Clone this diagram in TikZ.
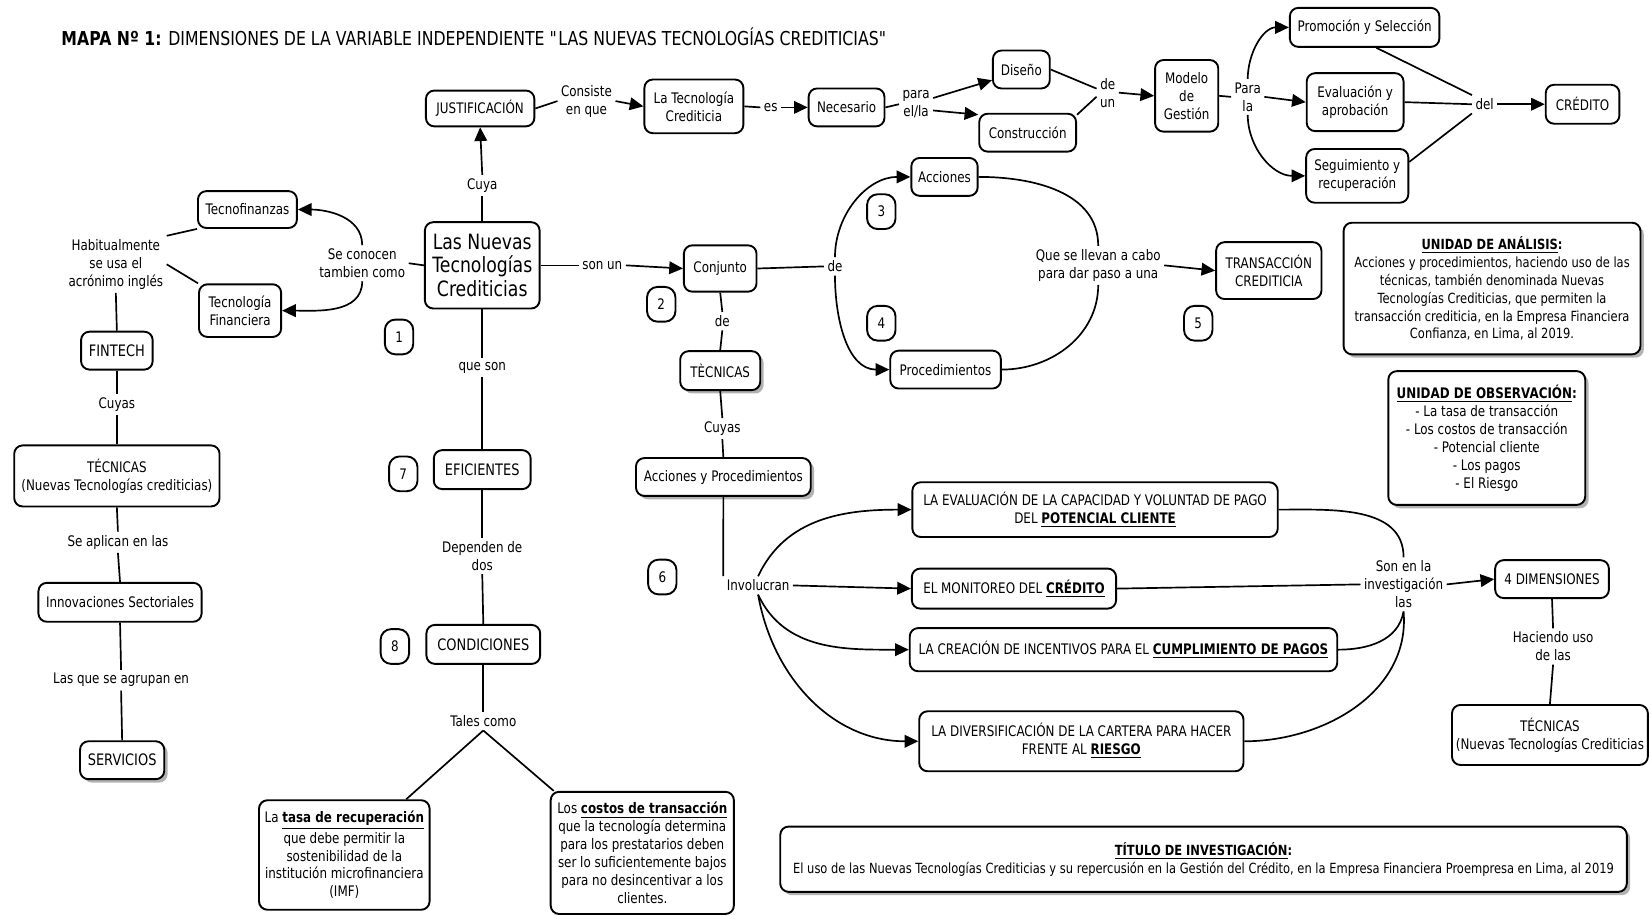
\documentclass[tikz,border=0pt]{standalone}
\usepackage{fontspec}
\setmainfont{DejaVu Sans}[FakeStretch=0.82]
\usetikzlibrary{arrows.meta,shadows}
\newcommand{\normfs}{\fontsize{6.9pt}{8.5pt}\selectfont}
\newcommand{\smfs}{\fontsize{6.65pt}{8.5pt}\selectfont}
\newcommand{\midfs}{\fontsize{7.5pt}{9pt}\selectfont}
\newcommand{\bigfs}{\fontsize{10pt}{11.2pt}\selectfont}
\newcommand{\titfs}{\fontsize{9.1pt}{10pt}\selectfont}
\newcommand{\bu}[1]{\textbf{\underline{#1}}}
\newcommand{\qdbl}{\XeTeXglyph\XeTeXglyphindex "quotedbl"\relax}
\begin{document}
\begin{tikzpicture}[x=0.5pt,y=-0.5pt,
  box/.style={draw, line width=0.9pt, rounded corners=4pt, align=center, fill=white, inner sep=1pt, font=\normfs},
  sz/.style 2 args={minimum width=#1*0.5pt, minimum height=#2*0.5pt},
  sbox/.style={box, drop shadow={shadow xshift=1.6pt, shadow yshift=-1.6pt, fill=black!60}},
  numb/.style={box, rounded corners=5pt, sz={27}{33}},
  lbl/.style={align=center, inner sep=1.5pt, font=\normfs},
  con/.style={line width=0.8pt},
  arr/.style={con, -{Triangle[length=6.5pt,width=6pt]}},
]
\fill[white] (0,0) rectangle (1568,869);
\useasboundingbox (0,0) rectangle (1568,869);

\node[anchor=west, font=\titfs, inner sep=0pt] (title) at (58,35) {\textbf{MAPA Nº 1:} DIMENSIONES DE LA VARIABLE INDEPENDIENTE \qdbl LAS NUEVAS TECNOLOGÍAS CREDITICIAS\qdbl};

% top row
\node[box, sz={103}{34}] (just) at (456,103) {JUSTIFICACIÓN};
\node[box, sz={94}{51}] (tec) at (659,101) {La Tecnología\\Crediticia};
\node[box, sz={72}{36}] (nec) at (804,102) {Necesario};
\node[box, sz={54}{36}] (dis) at (970,66) {Diseño};
\node[box, sz={92}{36}] (cons) at (976,126) {Construcción};
\node[box, sz={60}{68}] (mod) at (1127,91) {Modelo\\de\\Gestión};
\node[box, sz={142}{37}] (prom) at (1296,26) {Promoción y Selección};
\node[box, sz={92}{55}] (eval) at (1287,97) {Evaluación y\\aprobación};
\node[box, sz={97}{51}] (seg) at (1289,167) {Seguimiento y\\recuperación};
\node[box, sz={70}{37}] (cred) at (1503,99) {CRÉDITO};

\node[lbl] (consiste) at (557,96) {Consiste\\en que};
\node[lbl] (es) at (732,102) {es};
\node[lbl] (para) at (870,99) {para\\el/la};
\node[lbl] (deun) at (1052,88) {de\\un};
\node[lbl] (parala) at (1185,92) {Para\\la};
\node[lbl] (del) at (1410,99) {del};

% centre
\node[box, sz={109}{82}, font=\bigfs] (lnt) at (458,252) {Las Nuevas\\Tecnologías\\Crediticias};
\node[box, sz={69}{44}] (conj) at (684,255) {Conjunto};
\node[box, sz={63}{36}] (acc) at (897,168) {Acciones};
\node[box, sz={105}{36}] (proc) at (898,351) {Procedimientos};
\node[box, sz={100}{54}] (trans) at (1205,257) {TRANSACCIÓN\\CREDITICIA};
\node[sbox, sz={76}{37}] (tecn) at (684,352) {TÈCNICAS};
\node[sbox, sz={166}{36}] (ayp) at (687,453) {Acciones y Procedimientos};

\node[lbl] (cuya) at (458,176) {Cuya};
\node[lbl] (seco) at (344,250) {Se conocen\\tambien como};
\node[lbl] (sonun) at (572,252) {son un};
\node[lbl] (de1) at (793,253) {de};
\node[lbl] (de2) at (686,305) {de};
\node[lbl] (qse) at (1043,252) {Que se llevan a cabo\\para dar paso a una};
\node[lbl] (cuyasc) at (686,407) {Cuyas};
\node[lbl] (invol) at (720,556) {Involucran};

% dimension boxes
\node[box, sz={347}{52}] (evcap) at (1040,484) {LA EVALUACIÓN DE LA CAPACIDAD Y VOLUNTAD DE PAGO\\DEL \bu{POTENCIAL CLIENTE}};
\node[box, sz={194}{38}] (mon) at (963,559) {EL MONITOREO DEL \bu{CRÉDITO}};
\node[box, sz={406}{41}] (crea) at (1067,617) {LA CREACIÓN DE INCENTIVOS PARA EL \bu{CUMPLIMIENTO DE PAGOS}};
\node[box, sz={308}{57}] (div) at (1027,704) {LA DIVERSIFICACIÓN DE LA CARTERA PARA HACER\\FRENTE AL \bu{RIESGO}};
\node[lbl] (son) at (1333,555) {Son en la\\investigación\\las};
\node[box, sz={108}{36}] (dim) at (1474,550) {4 DIMENSIONES};
\node[lbl] (haci) at (1475,614) {Haciendo uso\\de las};
\node[box, sz={186}{57}] (tec2) at (1472,698) {TÉCNICAS\\(Nuevas Tecnologías Crediticias};

% info boxes
\node[sbox, sz={282}{125}, font=\smfs] (ua) at (1417,274) {\bu{UNIDAD DE ANÁLISIS}\textbf{:}\\Acciones y procedimientos, haciendo uso de las\\técnicas, también denominada Nuevas\\Tecnologías Crediticias, que permiten la\\transacción crediticia, en la Empresa Financiera\\Confianza, en Lima, al 2019.};
\node[sbox, sz={187}{127}] (uo) at (1412,416) {\bu{UNIDAD DE OBSERVACIÓN}\textbf{:}\\- La tasa de transacción\\- Los costos de transacción\\- Potencial cliente\\- Los pagos\\- El Riesgo};
\node[sbox, sz={804}{62}, font=\smfs] (tit) at (1143,816) {\bu{TÍTULO DE INVESTIGACIÓN}\textbf{:}\\El uso de las Nuevas Tecnologías Crediticias y su repercusión en la Gestión del Crédito, en la Empresa Financiera Proempresa en Lima, al 2019};

% left column
\node[box, sz={94}{35}] (tecf) at (235,199) {Tecnofinanzas};
\node[box, sz={78}{50}] (tfin) at (228,295) {Tecnología\\Financiera};
\node[lbl] (habit) at (110,251) {Habitualmente\\se usa el\\acrónimo inglés};
\node[box, sz={68}{36}, font=\midfs] (fint) at (111,333) {FINTECH};
\node[lbl] (cuyasl) at (111,384) {Cuyas};
\node[box, sz={195}{58}] (tec1) at (111,452) {TÉCNICAS\\(Nuevas Tecnologías crediticias)};
\node[lbl] (seapl) at (112,515) {Se aplican en las};
\node[box, sz={155}{37}] (innov) at (114,572) {Innovaciones Sectoriales};
\node[lbl] (lasque) at (115,646) {Las que se agrupan en};
\node[sbox, sz={80}{36}, font=\midfs] (serv) at (116,722) {SERVICIOS};

% central column
\node[lbl] (queson) at (458,349) {que son};
\node[box, sz={92}{37}, font=\midfs] (efic) at (458,446) {EFICIENTES};
\node[lbl] (depen) at (458,528) {Dependen de\\dos};
\node[box, sz={108}{37}, font=\midfs] (cond) at (459,612) {CONDICIONES};
\node[lbl] (tales) at (459,685) {Tales como};
\node[box, sz={162}{104}] (tasa) at (327,812) {La \bu{tasa de recuperación}\\que debe permitir la\\sostenibilidad de la\\institución microfinanciera\\(IMF)};
\node[box, sz={174}{116}] (costos) at (610,810) {Los \bu{costos de transacción}\\que la tecnología determina\\para los prestatarios deben\\ser lo suficientemente bajos\\para no desincentivar a los\\clientes.};

% numbers
\node[numb] (n1) at (379,320) {1};
\node[numb] (n2) at (628,289) {2};
\node[numb] (n3) at (837,201) {3};
\node[numb] (n4) at (837,307) {4};
\node[numb] (n5) at (1138,307) {5};
\node[numb] (n6) at (629,548) {6};
\node[numb] (n7) at (383,450) {7};
\node[numb] (n8) at (375,614) {8};

% connectors: top row
\draw[con] (just.east) -- (consiste.west);
\draw[arr] (consiste.east) -- (tec.west);
\draw[con] (tec.east) -- (es.west);
\draw[arr] (es.east) -- (nec.west);
\draw[con] (nec.east) -- (para.west);
\draw[arr] (para.20) -- (dis.200);
\draw[arr] (para.-20) -- (cons.160);
\draw[con] (dis.east) -- (deun.160);
\draw[con] (cons.20) -- (deun.200);
\draw[arr] (deun.east) -- (mod.west);
\draw[con] (mod.east) -- (parala.west);
\draw[arr] (parala.north) to[out=90,in=180] (prom.west);
\draw[arr] (parala.east) -- (eval.west);
\draw[arr] (parala.south) to[out=-90,in=180] (seg.west);
\draw[con] (prom.-60) -- (del.north west);
\draw[con] (eval.east) -- (del.west);
\draw[con] (seg.15) -- (del.south west);
\draw[arr] (del.east) -- (cred.west);

% centre
\draw[con] (lnt.north) -- (cuya.south);
\draw[arr] (cuya.north) -- (just.south);
\draw[con] (lnt.west) -- (seco.east);
\draw[arr] (seco.north) to[out=90,in=0] (tecf.east);
\draw[arr] (seco.south) to[out=-90,in=0] (tfin.east);
\draw[con] (lnt.east) -- (sonun.west);
\draw[arr] (sonun.east) -- (conj.west);
\draw[con] (conj.east) -- (de1.west);
\draw[arr] (de1.north) to[out=90,in=180] (acc.west);
\draw[arr] (de1.south) to[out=-90,in=180] (proc.west);
\draw[con] (acc.east) to[out=0,in=90] (qse.north);
\draw[con] (proc.east) to[out=0,in=-90] (qse.south);
\draw[arr] (qse.east) -- (trans.west);
\draw[con] (conj.south) -- (de2.north);
\draw[con] (de2.south) -- (tecn.north);
\draw[con] (tecn.south) -- (cuyasc.north);
\draw[con] (cuyasc.south) -- (ayp.north);
\draw[con] (ayp.south) -- (invol.north west);
\draw[arr] (invol.north) to[out=65,in=180] (evcap.west);
\draw[arr] (invol.east) -- (mon.west);
\draw[arr] (invol.south) to[out=-65,in=180] (crea.west);
\draw[arr] (invol.south) to[out=-80,in=180] (div.west);
\draw[con] (evcap.east) to[out=0,in=90] (son.north);
\draw[con] (mon.east) -- (son.west);
\draw[con] (crea.east) to[out=0,in=-100] (son.south);
\draw[con] (div.east) to[out=0,in=-85] (son.south);
\draw[arr] (son.east) -- (dim.west);
\draw[con] (dim.south) -- (haci.north);
\draw[con] (haci.south) -- (tec2.north);

% left
\draw[con] (tecf.south west) -- (habit.north east);
\draw[con] (tfin.north west) -- (habit.east);
\draw[con] (habit.south) -- (fint.north);
\draw[con] (fint.south) -- (cuyasl.north);
\draw[con] (cuyasl.south) -- (tec1.north);
\draw[con] (tec1.south) -- (seapl.north);
\draw[con] (seapl.south) -- (innov.north);
\draw[con] (innov.south) -- (lasque.north);
\draw[con] (lasque.south) -- (serv.north);

% central column
\draw[con] (lnt.south) -- (queson.north);
\draw[con] (queson.south) -- (efic.north);
\draw[con] (efic.south) -- (depen.north);
\draw[con] (depen.south) -- (cond.north);
\draw[con] (cond.south) -- (tales.north);
\draw[con] (tales.south) -- (tasa.42);
\draw[con] (tales.south) -- (costos.145);
\end{tikzpicture}
\end{document}
